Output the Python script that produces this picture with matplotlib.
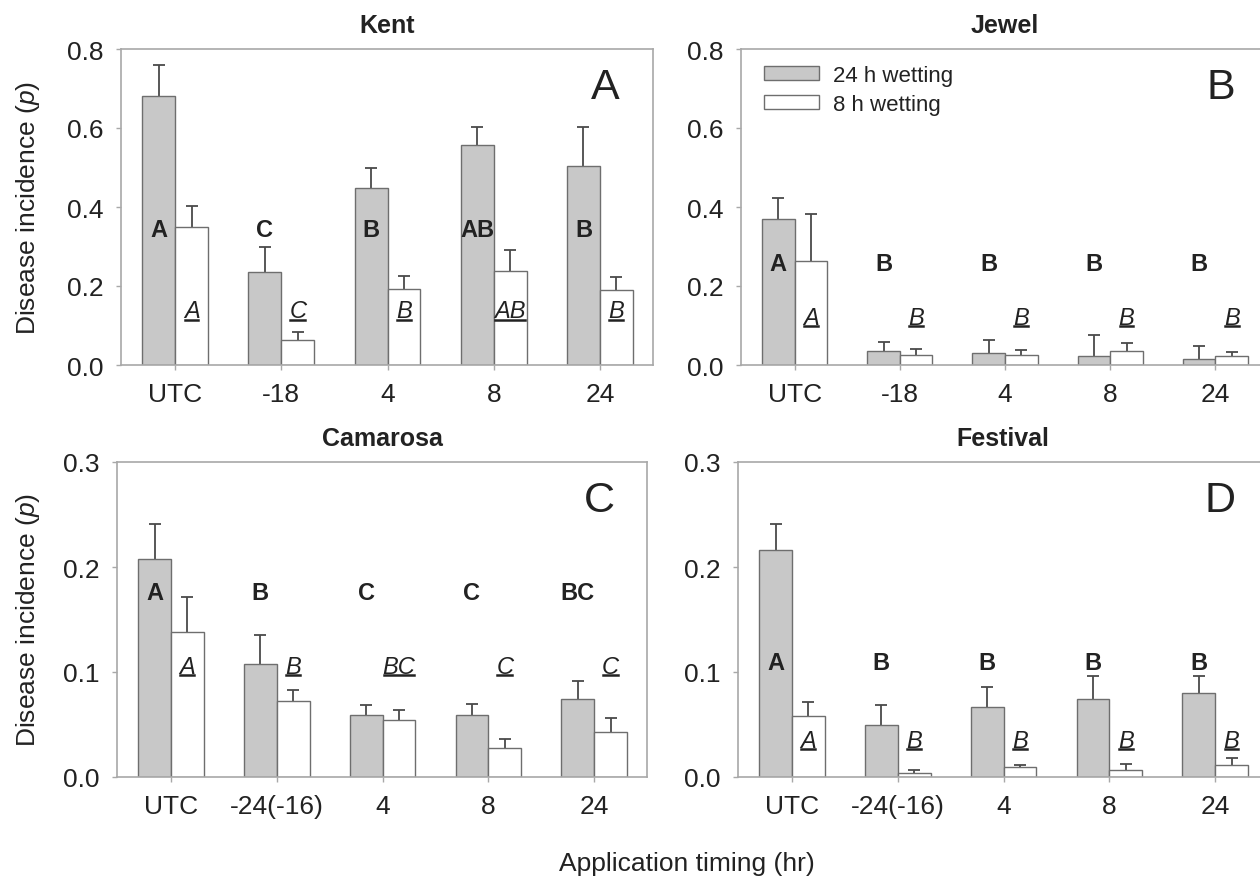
import matplotlib
matplotlib.use("Agg")
import matplotlib.pyplot as plt
import numpy as np
from matplotlib.lines import Line2D

plt.rcParams['font.family'] = ['Liberation Sans', 'DejaVu Sans']
plt.rcParams['mathtext.fontset'] = 'custom'
plt.rcParams['mathtext.rm'] = 'Liberation Sans'
plt.rcParams['mathtext.it'] = 'Liberation Sans:italic'

# categories
cats_top = ["UTC", "-18", "4", "8", "24"]
cats_bottom = ["UTC", "-24(-16)", "4", "8", "24"]

# Kent
kent_24 = [0.682, 0.235, 0.448, 0.558, 0.505]
kent_24_err = [0.078, 0.063, 0.050, 0.044, 0.098]
kent_8 = [0.349, 0.064, 0.192, 0.238, 0.191]
kent_8_err = [0.054, 0.020, 0.034, 0.054, 0.033]
kent_letters_24 = ["A", "C", "B", "AB", "B"]
kent_letters_8 = ["A", "C", "B", "AB", "B"]

# Jewel
jewel_24 = [0.369, 0.036, 0.030, 0.024, 0.015]
jewel_24_err = [0.053, 0.023, 0.033, 0.052, 0.032]
jewel_8 = [0.263, 0.025, 0.025, 0.035, 0.024]
jewel_8_err = [0.119, 0.016, 0.013, 0.020, 0.008]
jewel_letters_24 = ["A", "B", "B", "B", "B"]
jewel_letters_8 = ["A", "B", "B", "B", "B"]

# Camarosa
camarosa_24 = [0.208, 0.108, 0.059, 0.059, 0.074]
camarosa_24_err = [0.033, 0.027, 0.010, 0.011, 0.017]
camarosa_8 = [0.138, 0.072, 0.054, 0.028, 0.043]
camarosa_8_err = [0.033, 0.011, 0.010, 0.008, 0.013]
camarosa_letters_24 = ["A", "B", "C", "C", "BC"]
camarosa_letters_8 = ["A", "B", "BC", "C", "C"]

# Festival
festival_24 = [0.216, 0.050, 0.067, 0.074, 0.080]
festival_24_err = [0.025, 0.019, 0.019, 0.022, 0.016]
festival_8 = [0.058, 0.004, 0.010, 0.007, 0.011]
festival_8_err = [0.013, 0.003, 0.001, 0.005, 0.007]
festival_letters_24 = ["A", "B", "B", "B", "B"]
festival_letters_8 = ["A", "B", "B", "B", "B"]

GRAY = "#c8c8c8"
EDGE = "#6e6e6e"
SPINE = "#a8a8a8"
ERR = "#4a4a4a"
TXT = "#222222"
W = 0.31

fig = plt.figure(figsize=(12.6, 8.78), dpi=100)

def px(l, b, r, t):
    return [l / 1260, (878 - b) / 878, (r - l) / 1260, (b - t) / 878]

panels = [
    dict(pos=px(121, 366, 653, 50), title="Kent", tag="A", cats=cats_top, ymax=0.8, yticks=[0, 0.2, 0.4, 0.6, 0.8],
         v24=kent_24, e24=kent_24_err, v8=kent_8, e8=kent_8_err, l24=kent_letters_24, l8=kent_letters_8,
         y24=0.343, y8=0.1375, legend=False),
    dict(pos=px(741, 366, 1268, 50), title="Jewel", tag="B", cats=cats_top, ymax=0.8, yticks=[0, 0.2, 0.4, 0.6, 0.8],
         v24=jewel_24, e24=jewel_24_err, v8=jewel_8, e8=jewel_8_err, l24=jewel_letters_24, l8=jewel_letters_8,
         y24=0.258, y8=0.121, legend=True),
    dict(pos=px(117, 778, 647, 463), title="Camarosa", tag="C", cats=cats_bottom, ymax=0.3, yticks=[0, 0.1, 0.2, 0.3],
         v24=camarosa_24, e24=camarosa_24_err, v8=camarosa_8, e8=camarosa_8_err, l24=camarosa_letters_24,
         l8=camarosa_letters_8, y24=0.1756, y8=0.1057, legend=False),
    dict(pos=px(738, 778, 1268, 463), title="Festival", tag="D", cats=cats_bottom, ymax=0.3, yticks=[0, 0.1, 0.2, 0.3],
         v24=festival_24, e24=festival_24_err, v8=festival_8, e8=festival_8_err, l24=festival_letters_24,
         l8=festival_letters_8, y24=0.1095, y8=0.0349, legend=False),
]

underlined = []
for p in panels:
    ax = fig.add_axes(p["pos"])
    x = np.arange(len(p["cats"]))
    for xs, vals, errs, col, lab in [(x - W / 2, p["v24"], p["e24"], GRAY, "24 h wetting"),
                                     (x + W / 2, p["v8"], p["e8"], "white", "8 h wetting")]:
        vals = np.array(vals)
        errs = np.array(errs)
        # upper error only, no cap at the bar top
        ax.errorbar(xs, vals, yerr=[np.zeros(len(xs)), errs], fmt="none", ecolor=ERR,
                    elinewidth=1.3, capsize=0, zorder=1)
        ax.plot(xs, vals + errs, linestyle="none", marker="_", markersize=9,
                markeredgewidth=1.3, color=ERR, zorder=1)
        ax.bar(xs, vals, W, color=col, edgecolor=EDGE, linewidth=1.0, label=lab, zorder=2)
    ax.set_xlim(-0.51, 4.5)
    ax.set_ylim(0, p["ymax"])
    ax.set_xticks(x)
    ax.set_xticklabels(p["cats"])
    ax.set_yticks(p["yticks"])
    ax.set_yticklabels(["%.1f" % v for v in p["yticks"]])
    ax.tick_params(axis="both", direction="out", length=3.5, width=1.0, color=SPINE,
                   labelsize=19, labelcolor=TXT)
    ax.tick_params(axis="x", pad=9)
    ax.tick_params(axis="y", pad=9)
    for s in ax.spines.values():
        s.set_color(SPINE)
        s.set_linewidth(1.2)
    ax.text(0.5, 1.075, p["title"], transform=ax.transAxes, ha="center", va="center",
            fontsize=18, fontweight="bold", color=TXT)
    ax.text(4.05, 0.88 * p["ymax"], p["tag"], ha="center", va="center", fontsize=31, color=TXT)
    for i in range(len(x)):
        ax.text(x[i] - W / 2, p["y24"], p["l24"][i], ha="center", va="center",
                fontsize=17, fontweight="bold", color=TXT, zorder=3)
        t = ax.text(x[i] + W / 2, p["y8"], p["l8"][i], ha="center", va="center",
                    fontsize=17, fontstyle="italic", color=TXT, zorder=3)
        underlined.append((ax, t))
    if p["legend"]:
        ax.legend(loc="upper left", bbox_to_anchor=(0.043, 0.95), frameon=False, fontsize=16,
                  handlelength=2.5, handleheight=0.6, labelspacing=0.35, handletextpad=0.6,
                  borderpad=0, borderaxespad=0, labelcolor=TXT)

fig.text(28.5 / 1260, (878 - 208) / 878, "Disease incidence ($\\mathit{p}$)", rotation=90,
         ha="center", va="center", fontsize=19, color=TXT)
fig.text(28.5 / 1260, (878 - 620) / 878, "Disease incidence ($\\mathit{p}$)", rotation=90,
         ha="center", va="center", fontsize=19, color=TXT)
fig.text(687 / 1260, (878 - 864) / 878, "Application timing (hr)", ha="center", va="center",
         fontsize=19, color=TXT)

# underline the italic letters
fig.canvas.draw()
renderer = fig.canvas.get_renderer()
for ax, t in underlined:
    bb = t.get_window_extent(renderer)
    inv = ax.transData.inverted()
    (x0, y0), (x1, _) = inv.transform([(bb.x0 + 1, bb.y0 + 2.5), (bb.x1 - 1, bb.y0 + 2.5)])
    ax.add_line(Line2D([x0, x1], [y0, y0], color=TXT, linewidth=1.8, zorder=3))

fig.savefig("out.png", dpi=100)
